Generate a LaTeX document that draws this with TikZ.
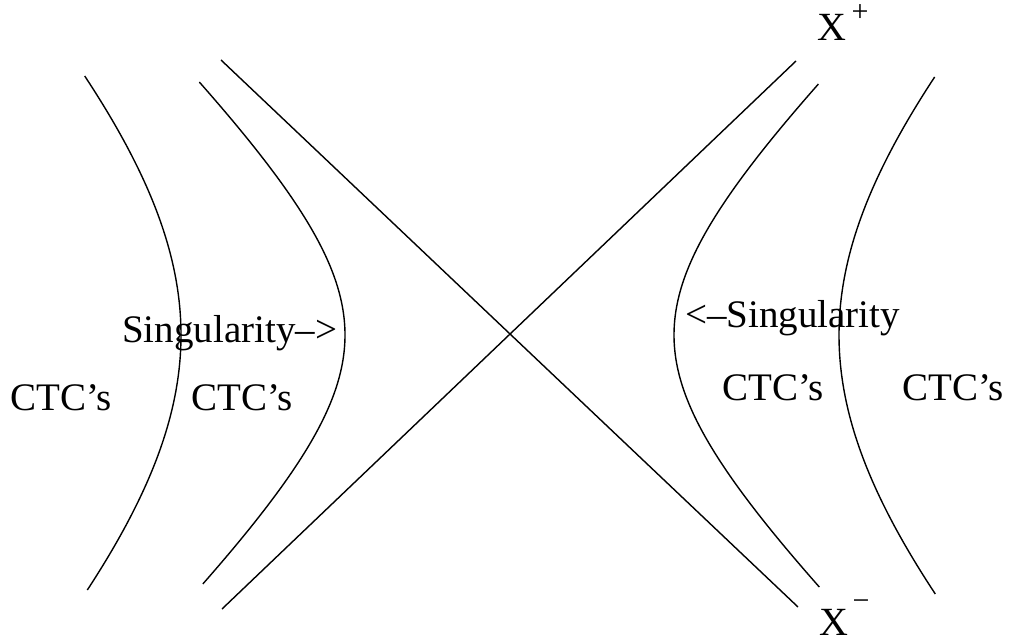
\documentclass[tikz,border=0pt]{standalone}
\usepackage{fontspec}
\setmainfont{Liberation Serif}
\begin{document}
\begin{tikzpicture}[x=1pt,y=-1pt,
  curve/.style={line width=1.4pt,black},
  lbl/.style={inner sep=0pt,anchor=base west,font=\fontsize{39}{41}\selectfont},
  axlbl/.style={inner sep=0pt,anchor=base west,font=\fontsize{40}{42}\selectfont},
  suplbl/.style={inner sep=0pt,font=\fontsize{30}{32}\selectfont}]
\useasboundingbox (0,0) rectangle (1012,644);
% asymptote lines
\coordinate (l1a) at (221,60);
\coordinate (l1b) at (798,607);
\coordinate (l2a) at (222,609);
\coordinate (l2b) at (796,61);
\draw[curve] (l1a) -- (l1b);
\draw[curve] (l2a) -- (l2b);
% hyperbolas
\draw[curve] plot[domain=-259:255,samples=120,smooth] ({510-100*sqrt(3.29^2+(0.0104*\x)^2)},{335+\x});
\draw[curve] plot[domain=-253:249,samples=120,smooth] ({510-100*sqrt(1.65^2+(0.0104*\x)^2)},{335+\x});
\draw[curve] plot[domain=-251:252,samples=120,smooth] ({510+100*sqrt(1.64^2+(0.0104*\x)^2)},{335+\x});
\draw[curve] plot[domain=-258:259,samples=120,smooth] ({510+100*sqrt(3.29^2+(0.0104*\x)^2)},{335+\x});
% labels
\node[lbl] (c1) at (10,410) {CTC’s};
\node[lbl] (c2) at (191,410) {CTC’s};
\node[lbl] (c3) at (722,400) {CTC’s};
\node[lbl] (c4) at (902,400) {CTC’s};
\node[lbl] (s1) at (122,342) {Singularity–>};
\node[lbl] (s2) at (685,327) {<–Singularity};
\node[axlbl] (xp) at (817,41) {X};
\node[suplbl] (xps) at (860,13) {+};
\node[axlbl] (xm) at (819,635) {X};
\node[suplbl] (xms) at (861,605) {−};
\end{tikzpicture}
\end{document}
